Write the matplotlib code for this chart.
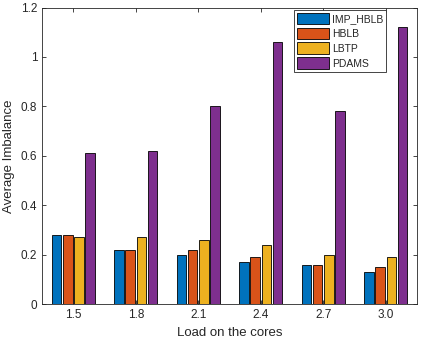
import numpy as np
import matplotlib.pyplot as plt

loads = ['1.5', '1.8', '2.1', '2.4', '2.7', '3.0']
imp_hblb = [0.28, 0.22, 0.20, 0.17, 0.16, 0.13]
hblb = [0.28, 0.22, 0.22, 0.19, 0.16, 0.15]
lbtp = [0.27, 0.27, 0.26, 0.24, 0.20, 0.19]
pdams = [0.61, 0.62, 0.80, 1.06, 0.78, 1.12]

names = ['IMP_HBLB', 'HBLB', 'LBTP', 'PDAMS']
colors = ['#0072BD', '#D95319', '#EDB120', '#7E2F8E']

plt.rcParams['font.family'] = 'Liberation Sans'
fig = plt.figure(figsize=(4.29, 3.44), dpi=100)
ax = fig.add_axes([0.098, 0.116, 0.874, 0.862])

x = np.arange(len(loads))
w = 0.177
for i, (vals, name) in enumerate(zip([imp_hblb, hblb, lbtp, pdams], names)):
    ax.bar(x + (i - 1.5) * w, vals, w * 0.86, color=colors[i],
           edgecolor='black', linewidth=0.6, label=name)

ax.set_xticks(x)
ax.set_xticklabels(loads)
ax.set_xlim(-0.5, 5.5)
ax.set_ylim(0, 1.2)
ax.set_yticks(np.arange(0, 1.21, 0.2))
ax.set_yticklabels(['0', '0.2', '0.4', '0.6', '0.8', '1', '1.2'])
ax.tick_params(direction='in', top=True, right=True, labelsize=8.5,
               colors='#262626', length=3, width=0.6)
for s in ax.spines.values():
    s.set_linewidth(0.6)
    s.set_color('#262626')
ax.set_xlabel('Load on the cores', fontsize=9.5, color='#262626')
ax.set_ylabel('Average Imbalance', fontsize=9.5, color='#262626')

leg = ax.legend(loc='upper right', fontsize=7.5, fancybox=False, framealpha=1,
                edgecolor='#262626', handlelength=3.0, handleheight=1.35,
                labelspacing=0.3, borderpad=0.3, handletextpad=0.3,
                borderaxespad=0.2, bbox_to_anchor=(0.923, 1.0))
leg.get_frame().set_linewidth(0.6)
for t in leg.get_texts():
    t.set_color('#262626')

fig.savefig('out.png', dpi=100)
